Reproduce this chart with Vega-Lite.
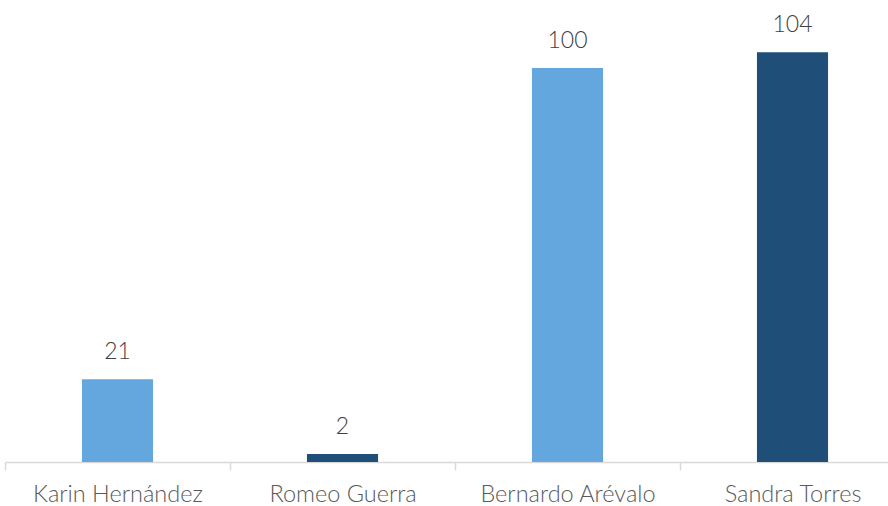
{
  "$schema": "https://vega.github.io/schema/vega-lite/v6.json",
  "width": 900,
  "height": 462,
  "autosize": {"type": "none"},
  "padding": {"left": 5, "top": 0, "right": 0, "bottom": 44},
  "background": "white",
  "config": {"view": {"stroke": null}, "font": "Lato"},
  "data": {"values": [
    {"name": "Karin Hernández", "value": 21, "grp": "a"},
    {"name": "Romeo Guerra", "value": 2, "grp": "b"},
    {"name": "Bernardo Arévalo", "value": 100, "grp": "a"},
    {"name": "Sandra Torres", "value": 104, "grp": "b"}
  ]},
  "encoding": {
    "x": {"field": "name", "type": "nominal", "sort": null,
      "scale": {"paddingInner": 0, "paddingOuter": 0},
      "axis": {"title": null, "labelAngle": 0, "labelFontSize": 23.5, "labelColor": "#595959", "labelFontWeight": 300,
        "labelPadding": 12, "domainColor": "#d9d9d9", "domainWidth": 1.5,
        "tickColor": "#d9d9d9", "tickWidth": 1.5, "tickSize": 8, "tickBand": "extent", "labelFont": "Lato"}},
    "y": {"field": "value", "type": "quantitative",
      "scale": {"domain": [0, 117.26], "nice": false},
      "axis": null}
  },
  "layer": [
    {"mark": {"type": "bar", "width": {"band": 0.316}},
     "encoding": {"color": {"field": "grp", "type": "nominal",
       "scale": {"domain": ["a", "b"], "range": ["#64a7df", "#1f4e79"]}, "legend": null}}},
    {"mark": {"type": "text", "dy": -20, "fontSize": 23, "fontWeight": 300, "color": "#404040", "baseline": "alphabetic", "font": "Lato"},
     "encoding": {"text": {"field": "value", "type": "quantitative"}}}
  ]
}
